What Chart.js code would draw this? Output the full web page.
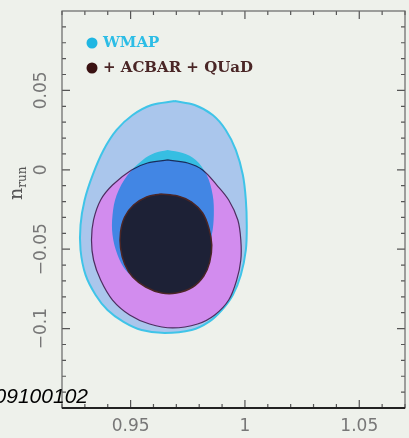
<!DOCTYPE html>
<html>
<head>
<meta charset="utf-8">
<script src="https://cdn.jsdelivr.net/npm/chart.js@4.4.0/dist/chart.umd.min.js"></script>
<style>
html, body { margin: 0; padding: 0; background: #eef1eb; }
#wrap { width: 409px; height: 438px; }
</style>
</head>
<body>
<div id="wrap"><canvas id="chart" width="409" height="438"></canvas></div>
<script>
// contour outlines (x = n_s, y = n_run)
const wmap95X = [0.9693, 0.9780, 0.9859, 0.9916, 0.9960, 0.9991, 1.0004, 1.0008, 1.0004, 0.9982, 0.9947, 0.9899, 0.9842, 0.9767, 0.9649, 0.9548, 0.9469, 0.9399, 0.9347, 0.9303, 0.9281, 0.9281, 0.9299, 0.9334, 0.9382, 0.9439, 0.9509, 0.9592];
const wmap95Y = [0.0433, 0.0408, 0.0345, 0.0251, 0.0125, -0.0033, -0.0190, -0.0348, -0.0505, -0.0662, -0.0788, -0.0883, -0.0958, -0.1009, -0.1028, -0.1009, -0.0958, -0.0883, -0.0788, -0.0662, -0.0505, -0.0348, -0.0190, -0.0033, 0.0125, 0.0251, 0.0345, 0.0408];

const acbar95X = [0.9662, 0.9750, 0.9815, 0.9877, 0.9929, 0.9969, 0.9982, 0.9982, 0.9964, 0.9929, 0.9868, 0.9793, 0.9684, 0.9583, 0.9496, 0.9421, 0.9369, 0.9338, 0.9329, 0.9338, 0.9369, 0.9421, 0.9504, 0.9574];
const acbar95Y = [0.0062, 0.0043, -0.0001, -0.0096, -0.0190, -0.0316, -0.0442, -0.0568, -0.0694, -0.0820, -0.0914, -0.0971, -0.0996, -0.0971, -0.0914, -0.0820, -0.0694, -0.0568, -0.0442, -0.0316, -0.0190, -0.0096, -0.0001, 0.0043];

const wmap68X = [0.9662, 0.9728, 0.9785, 0.9833, 0.9859, 0.9864, 0.9855, 0.9828, 0.9793, 0.9750, 0.9640, 0.9531, 0.9478, 0.9443, 0.9421, 0.9421, 0.9439, 0.9487, 0.9553, 0.9605];
const wmap68Y = [0.0125, 0.0106, 0.0062, -0.0033, -0.0159, -0.0285, -0.0411, -0.0537, -0.0631, -0.0694, -0.0725, -0.0694, -0.0631, -0.0537, -0.0411, -0.0285, -0.0159, -0.0033, 0.0062, 0.0106];

const acbar68X = [0.9631, 0.9706, 0.9767, 0.9815, 0.9842, 0.9855, 0.9846, 0.9820, 0.9772, 0.9701, 0.9636, 0.9566, 0.9509, 0.9474, 0.9456, 0.9456, 0.9474, 0.9513, 0.9570];
const acbar68Y = [-0.0152, -0.0165, -0.0203, -0.0272, -0.0366, -0.0474, -0.0581, -0.0669, -0.0738, -0.0776, -0.0776, -0.0738, -0.0675, -0.0593, -0.0492, -0.0392, -0.0297, -0.0222, -0.0171];

const xTickValues = [0.95, 1, 1.05];
const yTickValues = [0.05, 0, -0.05, -0.1];
const xMinorTicks = [0.92, 0.93, 0.94, 0.96, 0.97, 0.98, 0.99, 1.01, 1.02, 1.03, 1.04, 1.06, 1.07];
const yMinorTicks = [0.09, 0.08, 0.07, 0.06, 0.04, 0.03, 0.02, 0.01, -0.01, -0.02, -0.03, -0.04, -0.06, -0.07, -0.08, -0.09, -0.11, -0.12, -0.13, -0.14];

const legendLabels = ['WMAP', '+ ACBAR + QUaD'];
const stampText = '09100102';

// closed outline as {x, y} points
function outline(xs, ys) {
    const pts = xs.map((x, i) => ({ x: x, y: ys[i] }));
    pts.push(pts[0]);
    return pts;
}

function fmt(v) {
    if (v === 0) return '0';
    return (v < 0 ? '\u2212' : '') + String(Math.abs(v));
}

const MULTIPLY_AFTER = 1;   // dataset drawn just before WMAP 68%
const MULTIPLY_ON = 2;      // WMAP 68% blends with what is below

// inward ticks on all four sides, frame, legend, axis title, stamp
const framePlugin = {
    id: 'frame',
    afterDatasetDraw(chart, args) {
        const ctx = chart.ctx;
        if (args.index === MULTIPLY_AFTER) ctx.globalCompositeOperation = 'multiply';
        if (args.index === MULTIPLY_ON) ctx.globalCompositeOperation = 'source-over';
    },
    afterDraw(chart) {
        const ctx = chart.ctx;
        const a = chart.chartArea;
        const xs = chart.scales.x, ys = chart.scales.y;
        ctx.save();
        ctx.strokeStyle = '#555';
        ctx.lineWidth = 1.2;
        const tick = (vals, len, horiz) => {
            vals.forEach(v => {
                ctx.beginPath();
                if (horiz) {
                    const p = xs.getPixelForValue(v);
                    ctx.moveTo(p, a.bottom); ctx.lineTo(p, a.bottom - len);
                    ctx.moveTo(p, a.top); ctx.lineTo(p, a.top + len);
                } else {
                    const p = ys.getPixelForValue(v);
                    ctx.moveTo(a.left, p); ctx.lineTo(a.left + len, p);
                    ctx.moveTo(a.right, p); ctx.lineTo(a.right - len, p);
                }
                ctx.stroke();
            });
        };
        tick(xMinorTicks, 4, true);
        tick(xTickValues, 8, true);
        tick(yMinorTicks, 4, false);
        tick(yTickValues, 8, false);

        // frame
        ctx.strokeStyle = '#666';
        ctx.lineWidth = 1.2;
        ctx.strokeRect(a.left, a.top, a.right - a.left, a.bottom - a.top);
        ctx.strokeStyle = '#222';
        ctx.lineWidth = 2;
        ctx.beginPath();
        ctx.moveTo(a.left, a.bottom); ctx.lineTo(a.right, a.bottom);
        ctx.stroke();

        // legend
        const items = [
            { text: legendLabels[0], dot: '#1fb6e2', color: '#2cbde6', y: 43 },
            { text: legendLabels[1], dot: '#3a1212', color: '#4a2626', y: 68 }
        ];
        ctx.font = 'bold 15px "DejaVu Serif"';
        ctx.textBaseline = 'middle';
        ctx.textAlign = 'left';
        items.forEach(it => {
            ctx.fillStyle = it.dot;
            ctx.beginPath();
            ctx.arc(92, it.y, 5.5, 0, Math.PI * 2);
            ctx.fill();
            ctx.fillStyle = it.color;
            ctx.fillText(it.text, 103, it.y);
        });

        // y axis title: n with subscript run
        ctx.save();
        ctx.translate(17, 200);
        ctx.rotate(-Math.PI / 2);
        ctx.fillStyle = '#555';
        ctx.textBaseline = 'alphabetic';
        ctx.font = '19px "DejaVu Serif"';
        ctx.fillText('n', 0, 5);
        const nw = ctx.measureText('n').width;
        ctx.font = '12px "DejaVu Serif"';
        ctx.fillText('run', nw, 9);
        ctx.restore();

        // stamp text over the corner
        ctx.fillStyle = '#000';
        ctx.font = 'italic 21px "Liberation Sans"';
        ctx.textAlign = 'right';
        ctx.textBaseline = 'alphabetic';
        ctx.fillText(stampText, 88, 403);
        ctx.restore();
    }
};

new Chart(document.getElementById('chart'), {
    type: 'scatter',
    data: {
        datasets: [{
            label: 'ACBAR 68%',
            data: outline(acbar68X, acbar68Y),
            showLine: true,
            fill: 'shape',
            backgroundColor: '#1d2136',
            borderColor: '#4a2626',
            borderWidth: 1.5,
            tension: 0.35,
            pointRadius: 0,
            order: 1
        }, {
            label: 'ACBAR 95%',
            data: outline(acbar95X, acbar95Y),
            showLine: true,
            fill: 'shape',
            backgroundColor: '#d28cee',
            borderColor: '#4e2e60',
            borderWidth: 1.2,
            tension: 0.35,
            pointRadius: 0,
            order: 3
        }, {
            label: 'WMAP 68%',
            data: outline(wmap68X, wmap68Y),
            showLine: true,
            fill: 'shape',
            backgroundColor: 'rgb(80, 245, 245)',
            borderColor: 'rgba(0,0,0,0)',
            borderWidth: 0,
            tension: 0.35,
            pointRadius: 0,
            order: 2
        }, {
            label: 'WMAP 95%',
            data: outline(wmap95X, wmap95Y),
            showLine: true,
            fill: 'shape',
            backgroundColor: '#aac6ec',
            borderColor: '#3fc4e8',
            borderWidth: 2,
            tension: 0.35,
            pointRadius: 0,
            order: 4
        }]
    },
    options: {
        responsive: false,
        animation: false,
        layout: { padding: { left: 0, top: 11, right: 4, bottom: 0 } },
        plugins: {
            legend: { display: false },
            tooltip: { enabled: false }
        },
        scales: {
            x: {
                type: 'linear',
                min: 0.92,
                max: 1.07,
                grid: { display: false, drawTicks: false },
                border: { display: false },
                afterBuildTicks: s => { s.ticks = xTickValues.map(v => ({ value: v })); },
                afterFit: s => { s.height = 30; },
                ticks: {
                    callback: v => fmt(v),
                    autoSkip: false,
                    maxRotation: 0,
                    color: '#777',
                    font: { family: 'DejaVu Sans', size: 17 },
                    padding: 8
                }
            },
            y: {
                type: 'linear',
                min: -0.15,
                max: 0.1,
                grid: { display: false, drawTicks: false },
                border: { display: false },
                afterBuildTicks: s => { s.ticks = yTickValues.map(v => ({ value: v })); },
                afterFit: s => { s.width = 62; },
                ticks: {
                    callback: v => fmt(v),
                    autoSkip: false,
                    minRotation: 90,
                    maxRotation: 90,
                    crossAlign: 'center',
                    color: '#777',
                    font: { family: 'DejaVu Sans', size: 17 },
                    padding: -6
                }
            }
        }
    },
    plugins: [framePlugin]
});
</script>
</body>
</html>
